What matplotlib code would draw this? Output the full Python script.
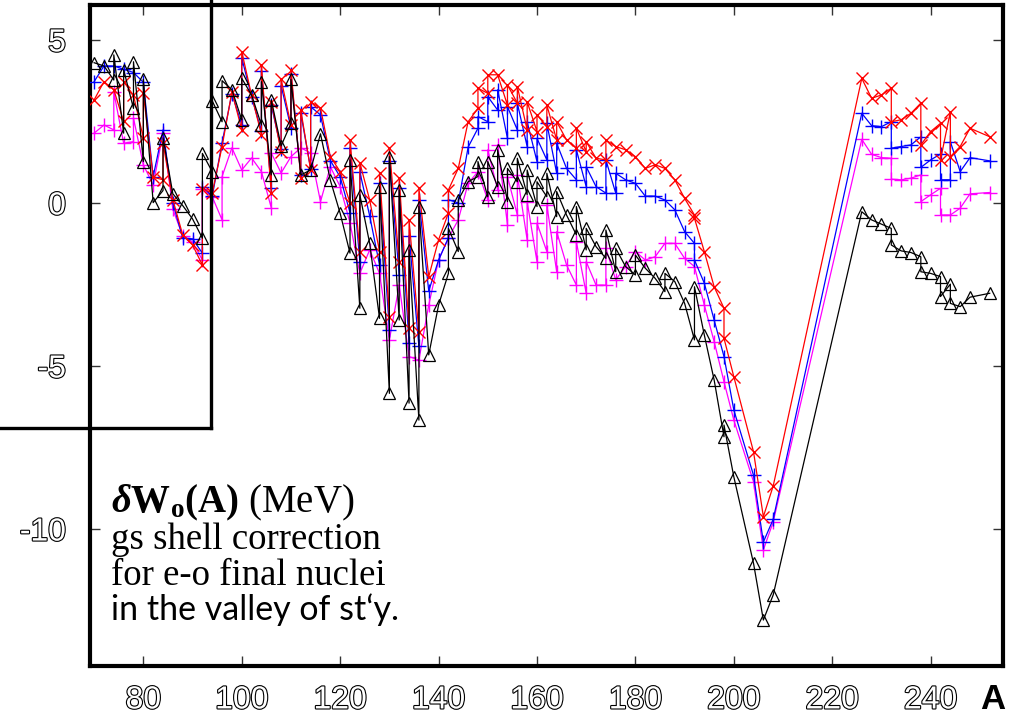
import matplotlib
matplotlib.use("Agg")
import matplotlib.pyplot as plt
import matplotlib.patheffects as pe
from matplotlib.lines import Line2D

plt.rcParams['axes.unicode_minus'] = False

# ---------------- data (A, shell correction in MeV) ----------------
A_black = [70, 72, 74, 74, 76, 76, 78, 78, 80, 80, 82, 84, 84, 86, 88, 90, 92, 92,
           94, 94, 96, 96, 98, 100, 100, 102, 104, 104, 106, 106, 108, 110, 110, 112, 114,
           116, 118, 120, 122, 122, 124, 124, 126, 128, 128, 130, 130, 132, 132, 134, 134,
           136, 136, 138, 140, 142, 142, 144, 144, 146, 148, 148, 150, 150, 152, 152,
           154, 154, 156, 156, 158, 158, 160, 160, 162, 162, 164, 164, 166, 168, 168,
           170, 170, 172, 174, 174, 176, 176, 178, 180, 180, 182, 184, 186, 186, 188,
           190, 192, 192, 194, 196, 198, 198, 200, 204, 206, 208,
           226, 228, 230, 232, 232, 234, 236, 238, 238, 240, 242, 242, 244, 244, 246, 248, 252]
dW_black = [4.30, 4.20, 3.77, 4.54, 2.14, 4.08, 2.90, 4.33, 1.27, 3.79, 0.01, 0.38, 2.00, 0.28, -0.08, -0.49, -1.08, 1.52,
            0.96, 3.13, 2.49, 3.75, 3.47, 2.55, 3.82, 3.31, 2.39, 3.72, 0.86, 3.16, 1.75, 2.44, 3.79, 0.86, 1.01,
            2.12, 0.70, -0.32, -1.54, 1.32, -3.23, 0.25, -1.24, -3.54, 0.50, -5.84, 1.42, -3.59, 0.40, -6.14, -1.44,
            -6.66, -0.11, -4.66, -3.13, -2.16, -0.78, -1.49, 0.09, 0.65, 0.81, 1.27, 0.19, 1.27, 0.50, 1.63,
            0.04, 1.06, 0.65, 1.37, 0.25, 1.01, -0.11, 0.65, 0.19, 0.91, -0.42, 0.35, -0.37, -0.98, -0.11,
            -1.44, -0.78, -1.34, -1.70, -0.83, -2.11, -1.39, -1.95, -2.21, -1.60, -2.00, -2.31, -2.72, -2.16, -2.41,
            -3.08, -4.20, -2.57, -4.05, -5.43, -7.17, -6.81, -8.40, -11.05, -12.79, -12.02,
            -0.27, -0.52, -0.65, -0.78, -1.29, -1.47, -1.52, -1.65, -2.11, -2.16, -2.26, -2.87, -2.49, -3.08, -3.18, -2.89, -2.77]

A_red = [70, 72, 74, 76, 76, 78, 80, 80, 82, 84, 84, 86, 88, 90, 92, 92,
         94, 96, 98, 100, 100, 102, 104, 104, 106, 106, 108, 108, 110, 110, 112, 112, 114, 114,
         116, 118, 120, 122, 122, 124, 124, 126, 128, 128, 130, 130, 132, 132, 134, 134,
         136, 136, 138, 140, 142, 142, 144, 146, 148, 148, 150, 150, 152, 154, 154,
         156, 156, 158, 158, 160, 160, 162, 162, 164, 164, 166, 168, 168, 170, 170,
         172, 174, 174, 176, 178, 180, 182, 184, 186, 188, 190, 192, 192, 194, 196,
         198, 198, 200, 204, 206, 208,
         226, 228, 230, 232, 232, 234, 236, 238, 238, 240, 242, 242, 244, 244, 246, 248, 252]
dW_red = [3.16, 3.72, 3.47, 2.50, 3.72, 3.30, 2.00, 3.36, 0.79, 0.71, 1.83, 0.10, -0.98, -1.29, -1.90, 0.44,
          0.30, 1.73, 3.41, 2.24, 4.64, 3.30, 2.09, 4.23, 0.30, 3.10, 1.57, 3.79, 2.39, 4.08, 0.77, 2.85, 1.01, 3.10,
          2.91, 1.42, 0.96, 0.00, 1.93, -1.49, 1.23, 0.09, -1.49, 0.91, -3.49, 1.68, -1.80, 0.76, -3.84, -0.52,
          -3.95, 0.45, -2.26, -1.13, -0.31, 0.40, 1.06, 2.49, 2.90, 3.52, 3.36, 3.93, 3.93, 3.00, 3.62,
          3.06, 3.57, 2.24, 3.10, 2.19, 2.70, 2.34, 3.00, 1.93, 2.49, 1.93, 1.68, 2.29, 1.57, 1.88,
          1.37, 1.32, 1.93, 1.73, 1.63, 1.42, 1.06, 1.17, 1.06, 0.71, 0.14, -0.37, -0.47, -1.49, -2.57,
          -3.23, -4.15, -5.33, -7.63, -9.62, -8.68,
          3.82, 3.21, 3.31, 3.52, 2.49, 2.55, 2.75, 3.06, 1.78, 2.19, 2.44, 1.32, 2.80, 1.42, 1.73, 2.29, 2.03]

A_blue = [70, 72, 74, 76, 78, 80, 82, 84, 86, 88, 90, 92, 92,
          94, 96, 98, 100, 100, 102, 104, 104, 106, 106, 108, 108, 110, 110, 112, 112, 114, 114,
          116, 118, 120, 122, 122, 124, 124, 126, 128, 128, 130, 130, 132, 132, 134, 134,
          136, 136, 138, 140, 142, 142, 144, 146, 148, 148, 150, 150, 152, 152, 154, 154,
          156, 156, 158, 158, 160, 160, 162, 162, 164, 164, 166, 168, 168, 170, 170,
          172, 174, 174, 176, 176, 178, 180, 182, 184, 186, 188, 190, 192, 192, 194, 196,
          198, 200, 204, 206, 208,
          226, 228, 230, 232, 232, 234, 236, 238, 238, 240, 242, 242, 244, 244, 246, 248, 252]
dW_blue = [3.72, 4.20, 4.20, 4.10, 4.00, 3.70, 0.81, 2.24, 0.00, -1.08, -1.10, -1.54, 0.50,
           0.20, 1.85, 3.35, 2.40, 4.45, 3.25, 2.20, 4.05, 0.45, 3.00, 1.65, 3.60, 2.30, 3.95, 0.85, 2.75, 1.05, 2.95,
           2.70, 1.30, 0.80, -0.30, 1.70, -1.80, 0.95, -0.40, -1.90, 0.60, -3.90, 1.30, -2.20, 0.45, -4.30, -1.00,
           -4.40, 0.10, -2.70, -1.75, -1.07, 0.10, 0.00, 1.71, 2.29, 2.65, 2.49, 3.26, 2.85, 3.47, 1.98, 2.95,
           2.24, 3.06, 1.73, 2.49, 1.27, 1.98, 1.32, 2.44, 0.91, 1.83, 1.06, 0.71, 1.63, 0.50, 1.11,
           0.50, 0.30, 1.32, 0.30, 0.91, 0.71, 0.60, 0.21, 0.21, 0.09, -0.21, -0.88, -1.24, -1.75, -2.46, -3.59,
           -4.71, -6.35, -8.35, -10.40, -9.70,
           2.75, 2.37, 2.34, 2.49, 1.68, 1.73, 1.78, 2.03, 1.09, 1.32, 1.50, 0.71, 0.71, 1.88, 0.96, 1.39, 1.29]

A_mag = [70, 72, 74, 74, 76, 78, 78, 80, 82, 84, 86, 88, 90, 92, 92,
         94, 96, 96, 98, 100, 102, 104, 106, 106, 108, 110, 112, 114,
         116, 118, 120, 122, 124, 126, 128, 130, 132, 134,
         136, 138, 140, 142, 144, 146, 148, 150, 150, 152, 152, 154, 154,
         156, 156, 158, 158, 160, 160, 162, 162, 164, 164, 166, 168, 168, 170, 170,
         172, 174, 174, 176, 178, 180, 182, 184, 186, 188, 190, 192, 194, 196,
         198, 200, 204, 206, 208,
         226, 228, 230, 232, 232, 234, 236, 238, 238, 240, 242, 242, 244, 246, 248, 252]
dW_mag = [2.14, 2.39, 2.24, 3.40, 1.83, 1.88, 2.60, 1.17, 0.55, 2.14, -0.20, -1.00, -1.20, -1.75, 0.43,
          0.19, -0.52, 0.81, 1.69, 1.01, 1.38, 0.96, -0.15, 1.53, 0.92, 1.42, 1.69, 1.53,
          0.04, 1.11, 0.50, -0.61, -2.16, -1.44, -2.16, -4.20, -2.52, -4.71,
          -4.82, -3.13, -1.75, -1.07, -0.52, 0.60, 0.96, 0.09, 1.63, 0.40, 1.78, -0.67, 0.81,
          -0.37, 0.86, -1.13, 0.04, -1.80, -0.62, -1.49, -0.06, -2.11, -0.88, -1.90, -2.52, -1.19, -2.77, -1.80,
          -2.52, -2.52, -1.39, -2.36, -1.95, -1.49, -1.75, -1.65, -1.24, -1.24, -1.70, -1.95, -3.13, -4.25,
          -5.48, -6.66, -8.55, -10.64, -9.78,
          1.95, 1.49, 1.39, 1.37, 0.73, 0.71, 0.76, 0.86, 0.04, 0.25, 0.45, -0.37, -0.37, -0.16, 0.28, 0.32]

x_ticks = [80, 100, 120, 140, 160, 180, 200, 220, 240]
y_ticks = [5, 0, -5, -10]

# ---------------- figure ----------------
W, H = 1011, 720
fig = plt.figure(figsize=(W / 100, H / 100), dpi=100)
ax = fig.add_axes([89.5 / W, 1 - 666 / H, (1003 - 89.5) / W, (666 - 5) / H])

ax.plot(A_mag, dW_mag, color='#ff00ff', lw=0.9, marker='+', ms=10, mew=1.0, zorder=2)
ax.plot(A_blue, dW_blue, color='#0000ff', lw=0.9, marker='+', ms=10, mew=1.0, zorder=3)
ax.plot(A_red, dW_red, color='#ff0000', lw=0.9, marker='x', ms=8, mew=1.0, zorder=4)
ax.plot(A_black, dW_black, color='black', lw=0.9, marker='^', ms=8, mew=0.9,
        mfc='none', mec='black', zorder=5)

ax.set_xlim(69.06, 254.7)
ax.set_ylim(-14.2, 6.07)
ax.set_xticks(x_ticks)
ax.set_yticks(y_ticks)

for s in ax.spines.values():
    s.set_linewidth(3.0)

ax.tick_params(direction='in', length=7, width=1.0, top=True, right=True,
               labelsize=23, color='#333333')
ax.tick_params(axis='x', pad=14)
ax.tick_params(axis='y', pad=17)
outline = [pe.withStroke(linewidth=1.6, foreground='black')]
for lab in ax.get_xticklabels() + ax.get_yticklabels():
    lab.set_fontfamily('Liberation Sans')
    lab.set_color('white')
    lab.set_path_effects(outline)

fig.text(1005 / W, 1 - 716 / H, 'A', ha='right', va='bottom', fontsize=25,
         fontweight='bold', family='Liberation Sans')

# inset frame overlaid on the upper-left corner
fig.add_artist(Line2D([0, 210.7 / W], [1 - 428 / H, 1 - 428 / H], transform=fig.transFigure,
                      color='black', lw=2.4, solid_capstyle='projecting'))
fig.add_artist(Line2D([210.7 / W, 210.7 / W], [1 - 428 / H, 1.0], transform=fig.transFigure,
                      color='black', lw=2.4, solid_capstyle='projecting'))

# annotation text
plt.rcParams['mathtext.fontset'] = 'custom'
plt.rcParams['mathtext.rm'] = 'Liberation Serif'
plt.rcParams['mathtext.bf'] = 'Liberation Serif:bold'
plt.rcParams['mathtext.it'] = 'Liberation Serif:italic'
plt.rcParams['mathtext.bfit'] = 'Liberation Serif:italic:bold'

x0 = 111 / W
fig.text(x0, 1 - 512 / H, r'$\mathbfit{\delta}\mathbf{W_o(A)}$ (MeV)', fontsize=28,
         family='Liberation Serif', va='baseline', ha='left')
fig.text(x0, 1 - 549 / H, 'gs shell correction', fontsize=26.5,
         family='Liberation Serif', va='baseline', ha='left')
fig.text(x0, 1 - 585 / H, 'for e-o final nuclei', fontsize=26.5,
         family='Liberation Serif', va='baseline', ha='left')
fig.text(x0, 1 - 620 / H, 'in the valley of st\u2018y.', fontsize=24.5,
         family='Lato', va='baseline', ha='left')

fig.savefig('out.png', dpi=100)
